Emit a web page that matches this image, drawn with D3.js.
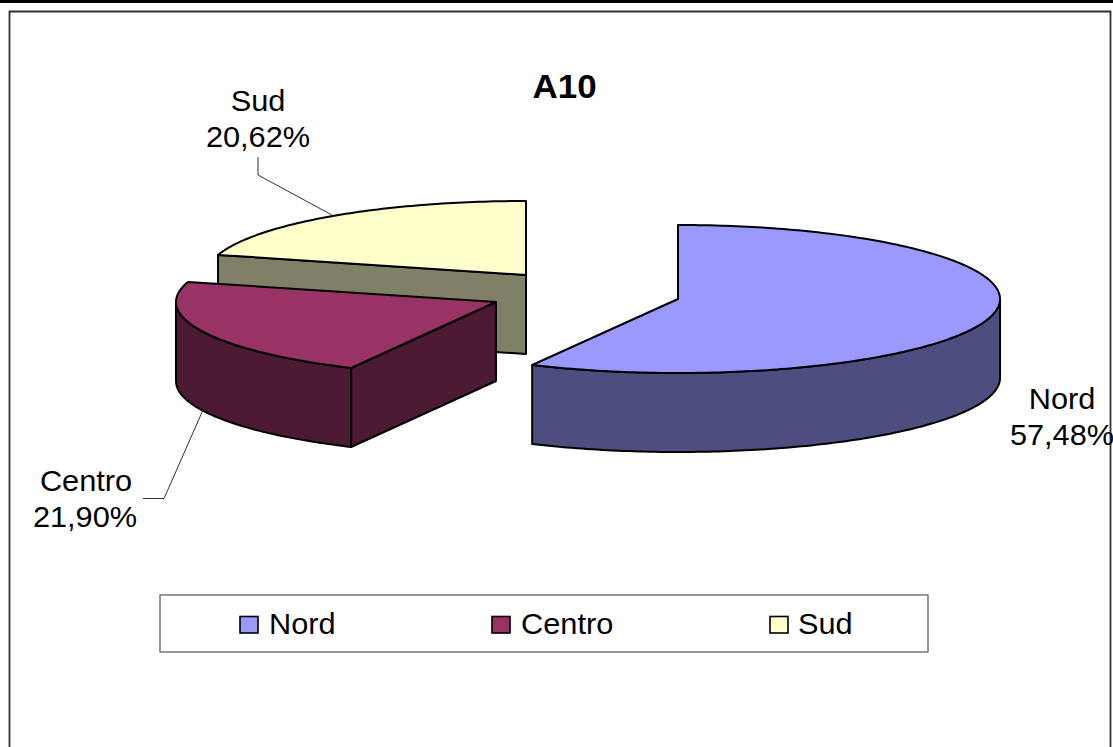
<!DOCTYPE html>
<html>
<head>
<meta charset="utf-8">
<style>
html,body{margin:0;padding:0;background:#fff;overflow:hidden}
svg{display:block}
text{font-family:"Liberation Sans",Arial,sans-serif;fill:#000}
</style>
<script src="https://cdn.jsdelivr.net/npm/d3@7/dist/d3.min.js"></script>
</head>
<body>
<svg id="c" width="1113" height="747"></svg>
<script>
const title = "A10";
const categories = ["Nord", "Centro", "Sud"];
const values = [57.48, 21.90, 20.62];
const valueLabels = ["57,48%", "21,90%", "20,62%"];

const topColors = ["#9999FF", "#993366", "#FFFFCC"];
const sideColors = ["#4D4D80", "#4D1A33", "#808066"];
const centers = [[678, 299], [496, 302], [526, 275]];
const radiiX = [322, 320, 320];
const radiusY = 74, depth = 79;
const labelPos = [[1062, 408], [86, 490], [258, 110]];
const leaders = [null, [[143, 498.5], [164, 498.5], [203, 410]], [[258, 157], [258, 175], [332, 215]]];
const legendSwatchX = [240, 492, 770];
const legendTextX = [269, 521, 798];
const sx = 1.06;

const svg = d3.select("#c");
const pie = d3.pie().sort(null).value(d => d).startAngle(0).endAngle(2 * Math.PI);
const arcs = pie(values);
const line = d3.line();

// page rule and chart frame
svg.append("rect").attr("x", 0).attr("y", 0).attr("width", 1113).attr("height", 3).attr("fill", "#000");
svg.append("path").attr("d", "M9.5,747V11.5H1110.5V747").attr("fill", "none").attr("stroke", "#333").attr("stroke-width", 1.8);

function stretched(sel, x, y, anchor, size, weight) {
  return sel.append("text")
    .attr("transform", `translate(${x},${y}) scale(${sx},1)`)
    .attr("text-anchor", anchor)
    .attr("font-size", size)
    .attr("font-weight", weight || "normal");
}

// draw back to front
[2, 1, 0].forEach(i => {
  const a = arcs[i];
  const [cx, cy] = centers[i];
  const xs = d3.scaleLinear().domain([-1, 1]).range([cx - radiiX[i], cx + radiiX[i]]);
  const ys = d3.scaleLinear().domain([-1, 1]).range([cy - radiusY, cy + radiusY]);
  const pt = t => [xs(Math.sin(t)), ys(-Math.cos(t))];
  const sweep = (t0, t1) => {
    const n = Math.max(2, Math.ceil((t1 - t0) * 60));
    return d3.range(n + 1).map(k => pt(t0 + (t1 - t0) * k / n));
  };
  const down = p => [p[0], p[1] + depth];
  const g = svg.append("g").attr("stroke", "#000").attr("stroke-width", 2).attr("stroke-linejoin", "round");

  // cut wall along the start edge, when it faces the viewer
  if (a.startAngle > Math.PI) {
    const apex = [cx, cy], rim = pt(a.startAngle);
    g.append("path").attr("d", line([apex, rim, down(rim), down(apex)]) + "Z").attr("fill", sideColors[i]);
  }
  // outer wall on the front half of the ellipse
  const f0 = Math.max(a.startAngle, Math.PI / 2), f1 = Math.min(a.endAngle, 3 * Math.PI / 2);
  if (f1 > f0) {
    const rim = sweep(f0, f1);
    g.append("path").attr("d", line(rim.concat(rim.map(down).reverse())) + "Z").attr("fill", sideColors[i]);
  }
  // top face
  g.append("path").attr("d", line([[cx, cy]].concat(sweep(a.startAngle, a.endAngle))) + "Z").attr("fill", topColors[i]);
});

// leader lines
leaders.forEach(pts => {
  if (pts) svg.append("path").attr("d", line(pts)).attr("fill", "none").attr("stroke", "#333").attr("stroke-width", 1);
});

// data labels
categories.forEach((c, i) => {
  const [x, y] = labelPos[i];
  stretched(svg, x, y + 0.5, "middle", 29).text(c);
  stretched(svg, i === 1 ? x - 1 : x, y + 36.5, "middle", 29).text(valueLabels[i]);
});

// title
stretched(svg, 564.5, 98, "middle", 33, "bold").text(title);

// legend
svg.append("rect").attr("x", 160).attr("y", 595).attr("width", 768).attr("height", 57)
  .attr("fill", "#fff").attr("stroke", "#555").attr("stroke-width", 1.2);
categories.forEach((c, i) => {
  svg.append("rect").attr("x", legendSwatchX[i]).attr("y", 616.5).attr("width", 18).attr("height", 16.5)
    .attr("fill", topColors[i]).attr("stroke", "#000").attr("stroke-width", 1.6);
  stretched(svg, legendTextX[i], 633.5, "start", 29).text(c);
});
</script>
</body>
</html>
